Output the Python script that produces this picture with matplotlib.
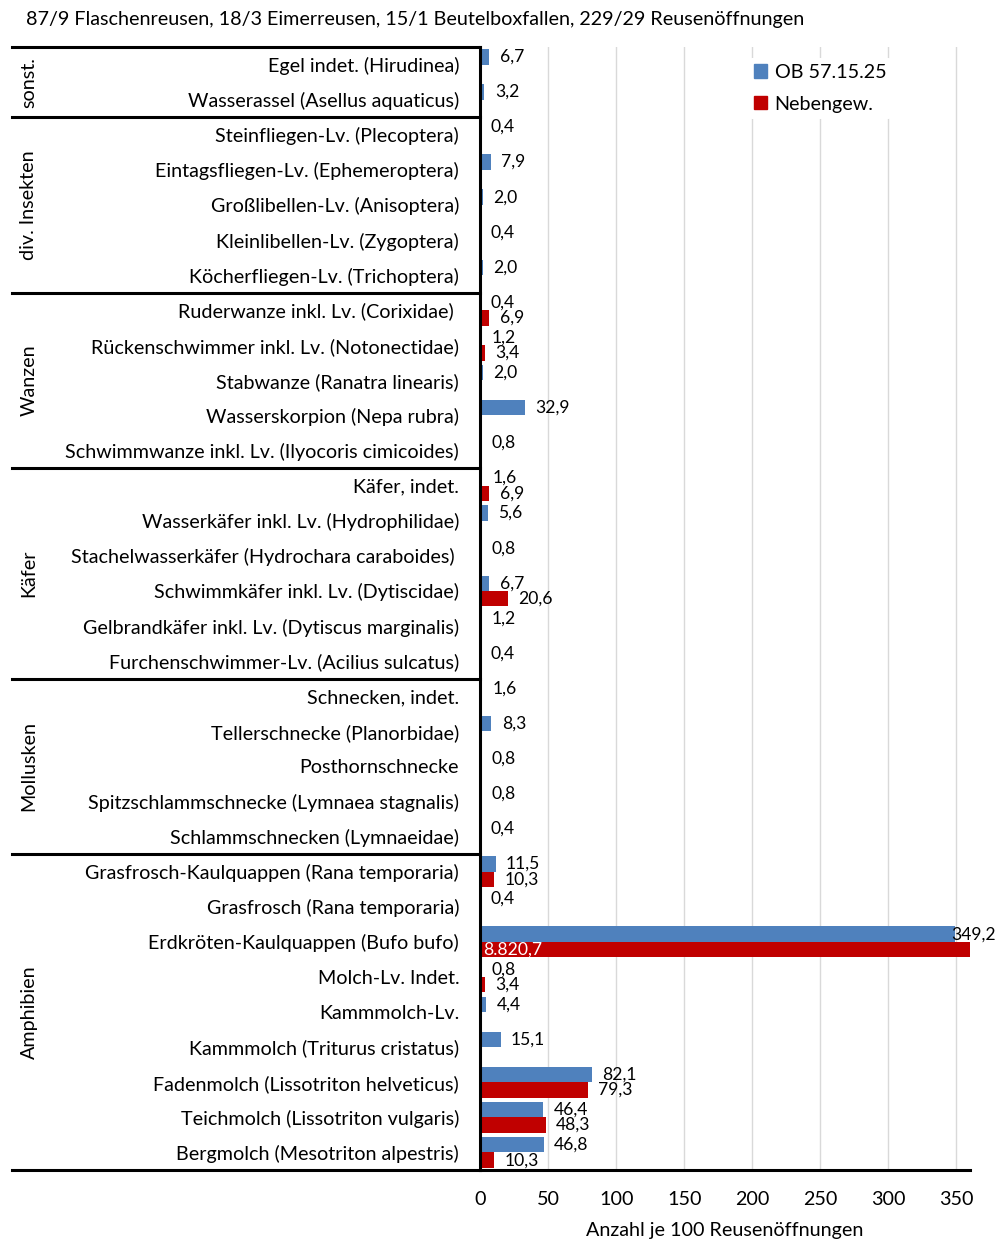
import numpy as np
import matplotlib.pyplot as plt
from matplotlib.patches import Patch
from matplotlib.lines import Line2D
from matplotlib.transforms import blended_transform_factory

plt.rcParams['font.family'] = ['Lato', 'DejaVu Sans']

# categories top to bottom
categories = [
    "Egel indet. (Hirudinea)",
    "Wasserassel (Asellus aquaticus)",
    "Steinfliegen-Lv. (Plecoptera)",
    "Eintagsfliegen-Lv. (Ephemeroptera)",
    "Großlibellen-Lv. (Anisoptera)",
    "Kleinlibellen-Lv. (Zygoptera)",
    "Köcherfliegen-Lv. (Trichoptera)",
    "Ruderwanze inkl. Lv. (Corixidae) ",
    "Rückenschwimmer inkl. Lv. (Notonectidae)",
    "Stabwanze (Ranatra linearis)",
    "Wasserskorpion (Nepa rubra)",
    "Schwimmwanze inkl. Lv. (Ilyocoris cimicoides)",
    "Käfer, indet.",
    "Wasserkäfer inkl. Lv. (Hydrophilidae)",
    "Stachelwasserkäfer (Hydrochara caraboides) ",
    "Schwimmkäfer inkl. Lv. (Dytiscidae)",
    "Gelbrandkäfer inkl. Lv. (Dytiscus marginalis)",
    "Furchenschwimmer-Lv. (Acilius sulcatus)",
    "Schnecken, indet.",
    "Tellerschnecke (Planorbidae)",
    "Posthornschnecke",
    "Spitzschlammschnecke (Lymnaea stagnalis)",
    "Schlammschnecken (Lymnaeidae)",
    "Grasfrosch-Kaulquappen (Rana temporaria)",
    "Grasfrosch (Rana temporaria)",
    "Erdkröten-Kaulquappen (Bufo bufo)",
    "Molch-Lv. Indet.",
    "Kammmolch-Lv.",
    "Kammmolch (Triturus cristatus)",
    "Fadenmolch (Lissotriton helveticus)",
    "Teichmolch (Lissotriton vulgaris)",
    "Bergmolch (Mesotriton alpestris)",
]

groups = ["sonst.", "div. Insekten", "Wanzen", "Käfer", "Mollusken", "Amphibien"]
group_sizes = [2, 5, 5, 6, 5, 9]

ob = [6.7, 3.2, 0.4, 7.9, 2.0, 0.4, 2.0, 0.4, 1.2, 2.0, 32.9, 0.8,
      1.6, 5.6, 0.8, 6.7, 1.2, 0.4, 1.6, 8.3, 0.8, 0.8, 0.4,
      11.5, 0.4, 349.2, 0.8, 4.4, 15.1, 82.1, 46.4, 46.8]
nan = np.nan
neben = [nan, nan, nan, nan, nan, nan, nan, 6.9, 3.4, nan, nan, nan,
         6.9, nan, nan, 20.6, nan, nan, nan, nan, nan, nan, nan,
         10.3, nan, 8820.7, 3.4, nan, nan, 79.3, 48.3, 10.3]

xticks = [0, 50, 100, 150, 200, 250, 300, 350]

BLUE = "#4F81BD"
RED = "#C00000"
FS = 14.2
FS_LBL = 12.6


def de_fmt(v):
    s = f"{v:,.1f}"
    return s.replace(",", "X").replace(".", ",").replace("X", ".")


fig = plt.figure(figsize=(9.99, 12.4), dpi=100)
ax = fig.add_axes([480 / 999, 1 - 1170 / 1240, 490 / 999, 1123 / 1240])

y = np.arange(len(categories))
h = 0.44
ax.barh(y - h / 2, ob, height=h, color=BLUE, zorder=2)
ax.barh(y + h / 2, neben, height=h, color=RED, zorder=2)

ax.set_xlim(0, 360)
ax.set_ylim(len(categories) - 0.5, -0.5)
ax.set_xticks(xticks)
ax.set_xticklabels([str(t) for t in xticks], fontsize=FS)
ax.set_yticks(y)
ax.set_yticklabels(categories, fontsize=FS)
ax.tick_params(axis='y', length=0, pad=15)
ax.tick_params(axis='x', length=0, pad=15)
ax.xaxis.grid(True, color="#D9D9D9", lw=1)
ax.set_axisbelow(True)
for s in ["top", "right"]:
    ax.spines[s].set_visible(False)
ax.spines["left"].set_linewidth(2.2)
ax.spines["bottom"].set_linewidth(2.2)
ax.set_xlabel("Anzahl je 100 Reusenöffnungen", fontsize=FS, labelpad=10)

# data labels
for i, v in enumerate(ob):
    off = -3 if v > 300 else 7.5
    ax.annotate(de_fmt(v), (v, i - h / 2), xytext=(off, 0), textcoords="offset points",
                ha="left", va="center", fontsize=FS_LBL, annotation_clip=False)
for i, v in enumerate(neben):
    if np.isnan(v):
        continue
    if v > 360:
        ax.annotate(de_fmt(v), (0, i + h / 2), xytext=(2, 0), textcoords="offset points",
                    ha="left", va="center", fontsize=FS_LBL, color="white")
    else:
        ax.annotate(de_fmt(v), (v, i + h / 2), xytext=(7.5, 0), textcoords="offset points",
                    ha="left", va="center", fontsize=FS_LBL)

# group lines and labels
tr = blended_transform_factory(fig.transFigure, ax.transData)
x0, x1 = 12 / 999, 480 / 999
start = -0.5
fig.add_artist(Line2D([x0, x1], [start, start], transform=tr, color="black", lw=2.2))
for g, n in zip(groups, group_sizes):
    end = start + n
    fig.add_artist(Line2D([x0, x1], [end, end], transform=tr, color="black", lw=2.2))
    fig.text(29 / 999, (start + end) / 2, g, transform=tr, rotation=90,
             ha="center", va="center", fontsize=FS)
    start = end

leg = ax.legend([Patch(color=BLUE), Patch(color=RED)], ["OB 57.15.25", "Nebengew."],
                loc="upper left", bbox_to_anchor=(748 / 999, 1 - 58 / 1240),
                bbox_transform=fig.transFigure, fontsize=FS, frameon=True,
                edgecolor="none", facecolor="white", framealpha=1,
                handlelength=0.65, handleheight=0.65, handletextpad=0.4,
                labelspacing=0.75, borderpad=0.3, borderaxespad=0)

fig.text(26 / 999, 1 - 19 / 1240,
         "87/9 Flaschenreusen, 18/3 Eimerreusen, 15/1 Beutelboxfallen, 229/29 Reusenöffnungen",
         ha="left", va="center", fontsize=FS)

fig.savefig("out.png", dpi=100)
